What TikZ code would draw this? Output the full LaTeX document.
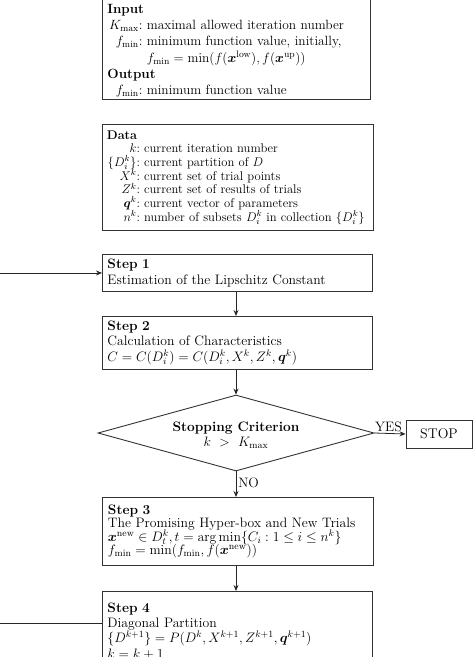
\RequirePackage{fix-cm}
\documentclass[tikz,border=0pt]{standalone}
\usepackage{amsmath,amssymb}
\usetikzlibrary{shapes.geometric,arrows.meta,calc}
\newlength{\labw}
\newcommand{\lab}[1]{\makebox[\labw][r]{#1}\ }
\begin{document}
\begin{tikzpicture}[x=1pt,y=-1pt,
  every node/.style={font=\fontsize{13.7}{15.3}\selectfont},
  box/.style={draw=black!80,line width=0.9pt,rectangle,inner xsep=5pt,inner ysep=0pt,align=left,text width=260pt,
    execute at begin node={\lineskiplimit=-20pt\lineskip=0pt}},
  conn/.style={draw=black!85,line width=0.8pt,-{Stealth[length=6pt,width=5pt]}},
  lbl/.style={inner sep=0pt}]
\useasboundingbox (0,0) rectangle (474,657);
\clip (0,0) rectangle (474,657);

\node[box,minimum width=268pt,anchor=south west,inner ysep=2.5pt,text width=258pt,font=\fontsize{13.4}{16.2}\selectfont] (input) at (102,100) {%
\setlength{\labw}{35pt}%
\rule{0pt}{15pt}\textbf{Input}\\
\lab{$K_{\max}$:}maximal allowed iteration number\\
\lab{$f_{\min}$:}minimum function value, initially,\\
\hspace*{\labw}\ $f_{\min}=\min(f(\boldsymbol{x}^{\mathrm{low}}),f(\boldsymbol{x}^{\mathrm{up}}))$\\
\textbf{Output}\\
\lab{$f_{\min}$:}minimum function value};

\node[box,minimum width=271pt,minimum height=106pt,anchor=north west,text width=262pt,inner xsep=4.5pt,font=\fontsize{12.6}{13.7}\selectfont] (data) at (102,124) {%
\setlength{\labw}{33pt}%
\textbf{Data}\\
\lab{$k$:}current iteration number\\
\lab{$\{D_i^k\}$:}current partition of $D$\\
\lab{$X^k$:}current set of trial points\\
\lab{$Z^k$:}current set of results of trials\\
\lab{$\boldsymbol{q}^k$:}current vector of parameters\\
\mbox{\lab{$n^k$:}number of subsets $D_i^k$ in collection $\{D_i^k\}$}};

\node[box,minimum width=270pt,minimum height=37pt,anchor=north west] (s1) at (102,254) {%
\textbf{Step 1}\\Estimation of the Lipschitz Constant};

\node[box,minimum width=270pt,minimum height=53pt,anchor=north west] (s2) at (102,316) {%
\textbf{Step 2}\\Calculation of Characteristics\\
$C=C(D_i^k)=C(D_i^k,X^k,Z^k,\boldsymbol{q}^k)$};

\node[draw=black!80,line width=0.9pt,diamond,aspect=3.6,inner sep=0pt,minimum width=276pt,minimum height=76pt,align=center] (crit) at (236,433) {%
\rule{0pt}{14pt}\textbf{Stopping Criterion}\\$k\ >\ K_{\max}$};

\node[draw=black!80,line width=0.9pt,rectangle,minimum width=66pt,minimum height=28pt,inner sep=0pt,font=\fontsize{14}{16}\selectfont] (stop) at (439,434) {STOP};

\node[box,minimum width=271pt,minimum height=68pt,anchor=north west,font=\fontsize{13.7}{13.3}\selectfont] (s3) at (102,497) {%
\textbf{Step 3}\\The Promising Hyper-box and New Trials\\
$\boldsymbol{x}^{\mathrm{new}}\in D_t^k, t=\arg\min\{C_i:1\le i\le n^k\}$\\
$f_{\min}=\min(f_{\min},f(\boldsymbol{x}^{\mathrm{new}}))$};

\node[box,minimum width=270pt,minimum height=79pt,anchor=north west] (s4) at (102,591) {%
\textbf{Step 4}\\Diagonal Partition\\
$\{D^{k+1}\}=P(D^k,X^{k+1},Z^{k+1},\boldsymbol{q}^{k+1})$\\
$k=k+1$};

\coordinate (back) at ($(s4.north west)+(0,32)$);

\draw[conn] (s1.south -| crit.north) -- (s2.north -| crit.north);
\draw[conn] (s2.south -| crit.north) -- (crit.north);
\draw[conn] (crit.east) -- (stop.west) node[lbl,pos=0.45,above=1pt] (yes) {YES};
\draw[conn] (crit.south) -- (s3.north -| crit.south) node[lbl,pos=0.45,right=2pt] (no) {NO};
\draw[conn] (s3.south -| crit.south) -- (s4.north -| crit.south);
\draw[conn] (back) -- ++(-110,0) |- (s1.west);
\end{tikzpicture}
\end{document}
